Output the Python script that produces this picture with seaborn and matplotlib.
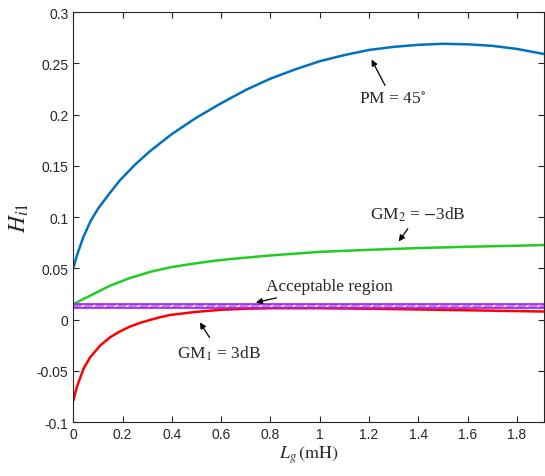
import numpy as np
import seaborn as sns
import matplotlib.pyplot as plt

# valores
lg_pm = [0, 0.014, 0.04, 0.07, 0.1, 0.15, 0.19, 0.25, 0.31, 0.4, 0.5, 0.6, 0.7, 0.8, 0.9, 1.0, 1.1, 1.2, 1.3, 1.4, 1.5, 1.6, 1.7, 1.8, 1.91]
h_pm = [0.05, 0.062, 0.08, 0.096, 0.108, 0.124, 0.136, 0.151, 0.164, 0.181, 0.197, 0.211, 0.224, 0.235, 0.244, 0.252, 0.258, 0.263, 0.266, 0.268, 0.269, 0.2685, 0.267, 0.264, 0.259]

lg_gm2 = [0, 0.068, 0.149, 0.23, 0.312, 0.393, 0.474, 0.556, 0.637, 0.8, 1.0, 1.2, 1.4, 1.6, 1.8, 1.91]
h_gm2 = [0.015, 0.0232, 0.033, 0.0405, 0.0465, 0.0509, 0.054, 0.0568, 0.059, 0.0625, 0.066, 0.068, 0.0697, 0.071, 0.072, 0.0727]

lg_gm1 = [0, 0.014, 0.041, 0.068, 0.108, 0.149, 0.19, 0.23, 0.271, 0.312, 0.352, 0.393, 0.5, 0.6, 0.7, 0.8, 1.0, 1.2, 1.4, 1.6, 1.91]
h_gm1 = [-0.0792, -0.066, -0.0483, -0.037, -0.0256, -0.0174, -0.0115, -0.0069, -0.0033, -0.0004, 0.0022, 0.0044, 0.0075, 0.0095, 0.0105, 0.011, 0.011, 0.0105, 0.0098, 0.009, 0.0078]

faixa_inf = 0.0115
faixa_sup = 0.0151

sns.set_theme(style="ticks")
plt.rcParams['font.family'] = ['Liberation Sans', 'DejaVu Sans']
plt.rcParams['mathtext.fontset'] = 'stix'
plt.rcParams['hatch.linewidth'] = 1.0

fig = plt.figure(figsize=(5.45, 4.77), dpi=100)
ax = fig.add_axes([0.1345, 0.1132, 0.8637, 0.8595])

linha = dict(lw=1.8, solid_joinstyle='round', solid_capstyle='round', ax=ax)
sns.lineplot(x=lg_pm, y=h_pm, color='#0072BD', **linha)
sns.lineplot(x=lg_gm2, y=h_gm2, color='#22CC22', **linha)
sns.lineplot(x=lg_gm1, y=h_gm1, color='#FF0000', **linha)

# região aceitável
ax.fill_between([0, 1.91], faixa_inf, faixa_sup, facecolor='#c27be8', edgecolor='white', hatch='///', lw=0)
ax.axhline(faixa_sup, color='#A020F0', lw=1.2)
ax.axhline(faixa_inf, color='#A020F0', lw=1.2)

ax.set_xlim(0, 1.91)
ax.set_ylim(-0.1, 0.3)
ax.set_xticks(np.arange(0, 1.81, 0.2))
ax.set_xticklabels(['0', '0.2', '0.4', '0.6', '0.8', '1', '1.2', '1.4', '1.6', '1.8'])
ax.set_yticks(np.arange(-0.1, 0.301, 0.05))
ax.set_yticklabels(['-0.1', '-0.05', '0', '0.05', '0.1', '0.15', '0.2', '0.25', '0.3'])
ax.tick_params(direction='in', top=True, right=True, labelsize=10, colors='#262626', length=4, width=0.8)
for s in ax.spines.values():
    s.set_color('#262626')
    s.set_linewidth(0.8)

ax.set_ylabel(r'$H_{i1}$', fontsize=17, labelpad=4)
ax.set_xlabel(r'$L_g\,(\mathrm{mH})$', fontsize=13, labelpad=2)

seta = dict(arrowstyle='-|>', color='black', lw=0.9, mutation_scale=9)
fonte = dict(family='Liberation Serif', fontsize=12.5, ha='center', va='center')
ax.annotate(r'PM = 45$^{\circ}$', xy=(1.205, 0.256), xytext=(1.294, 0.215), arrowprops=seta, **fonte)
ax.annotate(r'GM$_2$ = $-$3dB', xy=(1.314, 0.074), xytext=(1.40, 0.103), arrowprops=seta, **fonte)
ax.annotate('Acceptable region', xy=(0.73, 0.016), xytext=(1.04, 0.0327), arrowprops=seta, **fonte)
ax.annotate(r'GM$_1$ = 3dB', xy=(0.507, -0.0005), xytext=(0.592, -0.032), arrowprops=seta, **fonte)

plt.savefig('out.png', dpi=100)
